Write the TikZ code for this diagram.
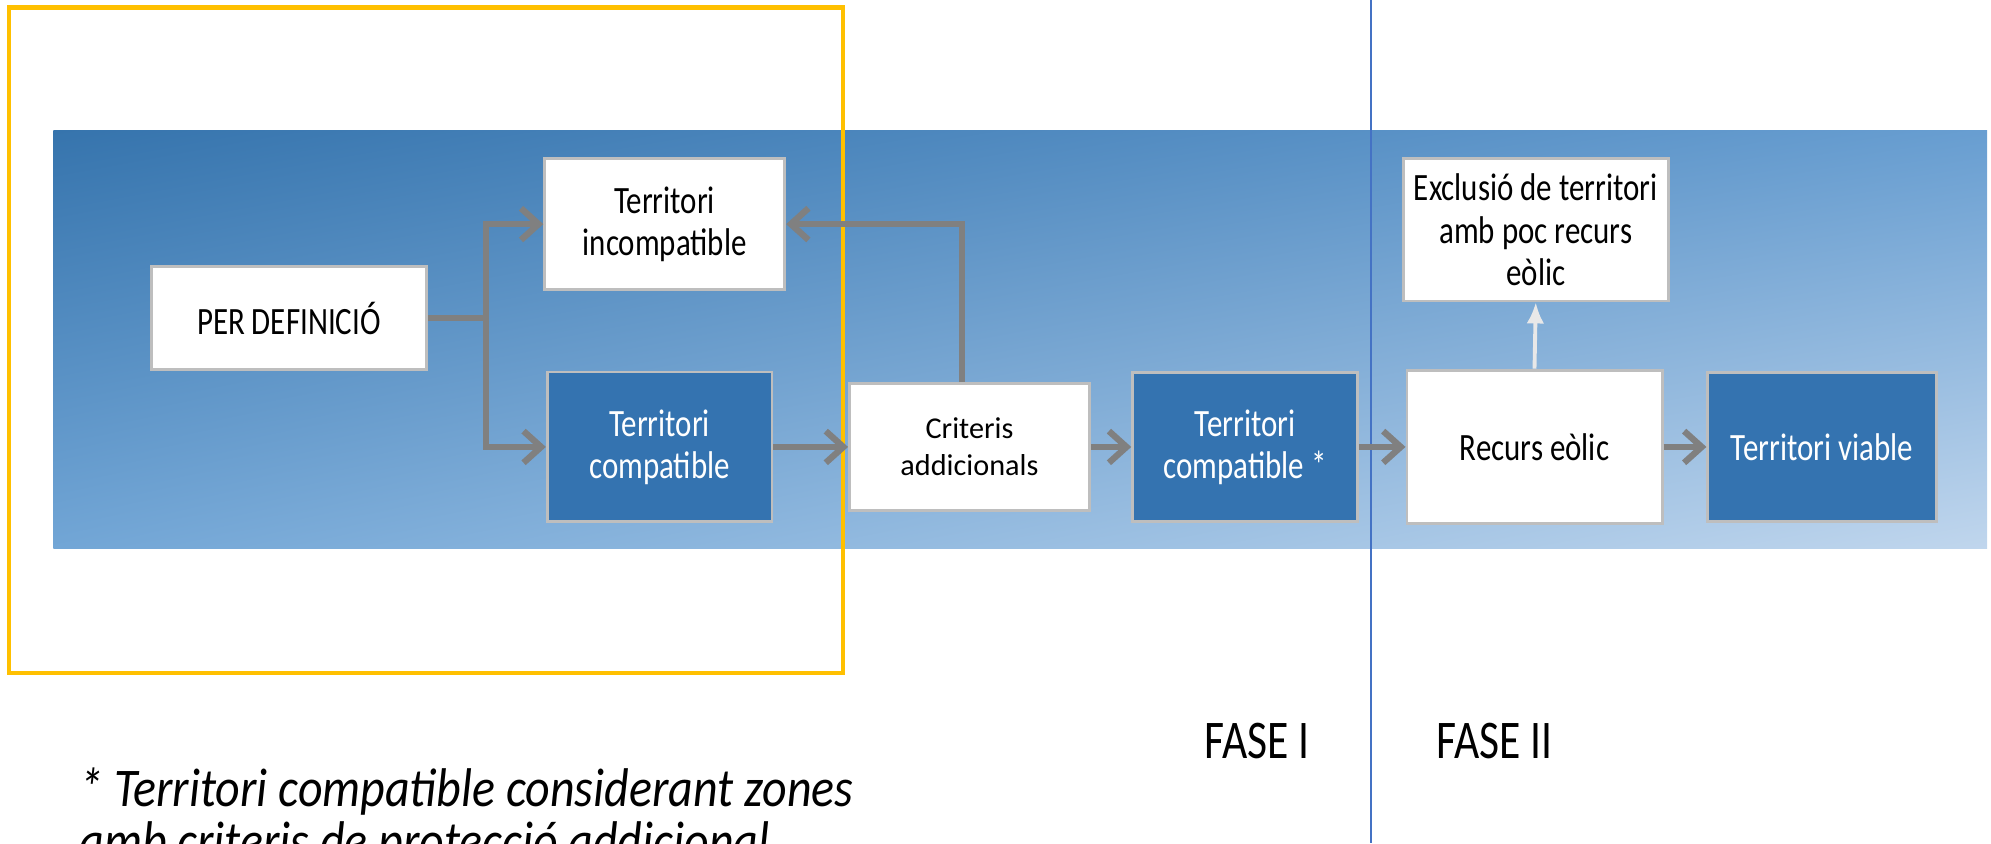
\documentclass[tikz,border=0pt]{standalone}
\usepackage{fontspec}
\setmainfont{Carlito}
\newfontfamily\cond[FakeStretch=0.8]{Carlito}
\newfontfamily\condnote[FakeStretch=0.88]{Carlito}
\usetikzlibrary{arrows.meta,shadings,calc}
\definecolor{bgTL}{RGB}{54,116,173}
\definecolor{bgTR}{RGB}{104,158,209}
\definecolor{bgBL}{RGB}{114,166,214}
\definecolor{bgBR}{RGB}{192,214,237}
\definecolor{darkbox}{RGB}{52,115,176}
\definecolor{boxline}{RGB}{190,190,190}
\definecolor{arrgray}{RGB}{128,128,128}
\definecolor{lightarr}{RGB}{232,232,232}
\definecolor{frameyellow}{RGB}{255,192,0}
\definecolor{phaseblue}{RGB}{68,114,196}
\tikzset{
  box/.style={draw=boxline, line width=0.8pt, inner sep=0pt, align=center,
    font=\cond\fontsize{11}{12}\selectfont},
  whitebox/.style={box, fill=white, text=black},
  bluebox/.style={box, fill=darkbox, text=white},
  arr/.style={draw=arrgray, line width=1.8pt,
    -{Straight Barb[length=5pt,width=9pt]}},
  lightarrow/.style={draw=lightarr, line width=1.1pt,
    -{Latex[length=6pt,width=5pt]}},
}
\begin{document}
\begin{tikzpicture}[x=0.012698cm, y=-0.012698cm]
\useasboundingbox (0,0) rectangle (1568,664);
% background band
\shade[upper left=bgTL, upper right=bgTR, lower left=bgBL, lower right=bgBR]
  (42,103) rectangle (1565,432);
% yellow frame and phase divider
\draw[frameyellow, line width=1.2pt] (7,6) rectangle (664,530);
\draw[phaseblue, line width=0.6pt] (1080,0) -- (1080,664);
% nodes
\node[whitebox, minimum width=217*0.012698cm, minimum height=81*0.012698cm] (perdef) at (227.5,250.5) {PER DEFINICIÓ};
\node[whitebox, minimum width=189*0.012698cm, minimum height=103*0.012698cm] (incomp) at (523.5,176.5) {Territori\\incompatible};
\node[bluebox, minimum width=177*0.012698cm, minimum height=118*0.012698cm] (comp) at (519.5,352) {Territori\\compatible};
\node[whitebox, minimum width=189*0.012698cm, minimum height=100*0.012698cm, font=\fontsize{8.6}{10.6}\selectfont] (crit) at (763.5,352) {Criteris\\addicionals};
\node[bluebox, minimum width=177*0.012698cm, minimum height=117*0.012698cm] (comp2) at (980.5,352) {Territori\\compatible *};
\node[whitebox, minimum width=201*0.012698cm, minimum height=121*0.012698cm] (recurs) at (1208.5,352) {Recurs eòlic};
\node[bluebox, minimum width=180*0.012698cm, minimum height=117*0.012698cm] (viable) at (1435,352) {Territori viable};
\node[whitebox, minimum width=209*0.012698cm, minimum height=112*0.012698cm] (excl) at (1209.5,181) {Exclusió de territori\\amb poc recurs\\eòlic};
% connectors
\coordinate (j) at (383,250.5);
\draw[draw=arrgray, line width=1.8pt] (perdef.east) -- (j);
\draw[arr] (j) |- (incomp.west);
\draw[arr] (j) |- (comp.west);
\draw[arr] ($(crit.north)+(-6,0)$) |- (incomp.east);
\draw[arr] (comp.east) -- (crit.west);
\draw[arr] (crit.east) -- (comp2.west);
\draw[arr] (comp2.east) -- (recurs.west);
\draw[arr] (recurs.east) -- (viable.west);
\draw[lightarrow] (recurs.north) -- (excl.south);
% phase labels
\node[font=\cond\fontsize{15.5}{18}\selectfont, anchor=base] (f1) at (990,597) {FASE I};
\node[font=\cond\fontsize{15.5}{18}\selectfont, anchor=base] (f2) at (1177,597) {FASE II};
% footnote (second line runs off the bottom edge, as in the original)
\node[font=\condnote\itshape\fontsize{15.5}{15}\selectfont, anchor=base west, align=left, inner sep=0pt] (note) at (62,677)
  {* Territori compatible considerant zones\\amb criteris de protecció addicional};
\end{tikzpicture}
\end{document}
